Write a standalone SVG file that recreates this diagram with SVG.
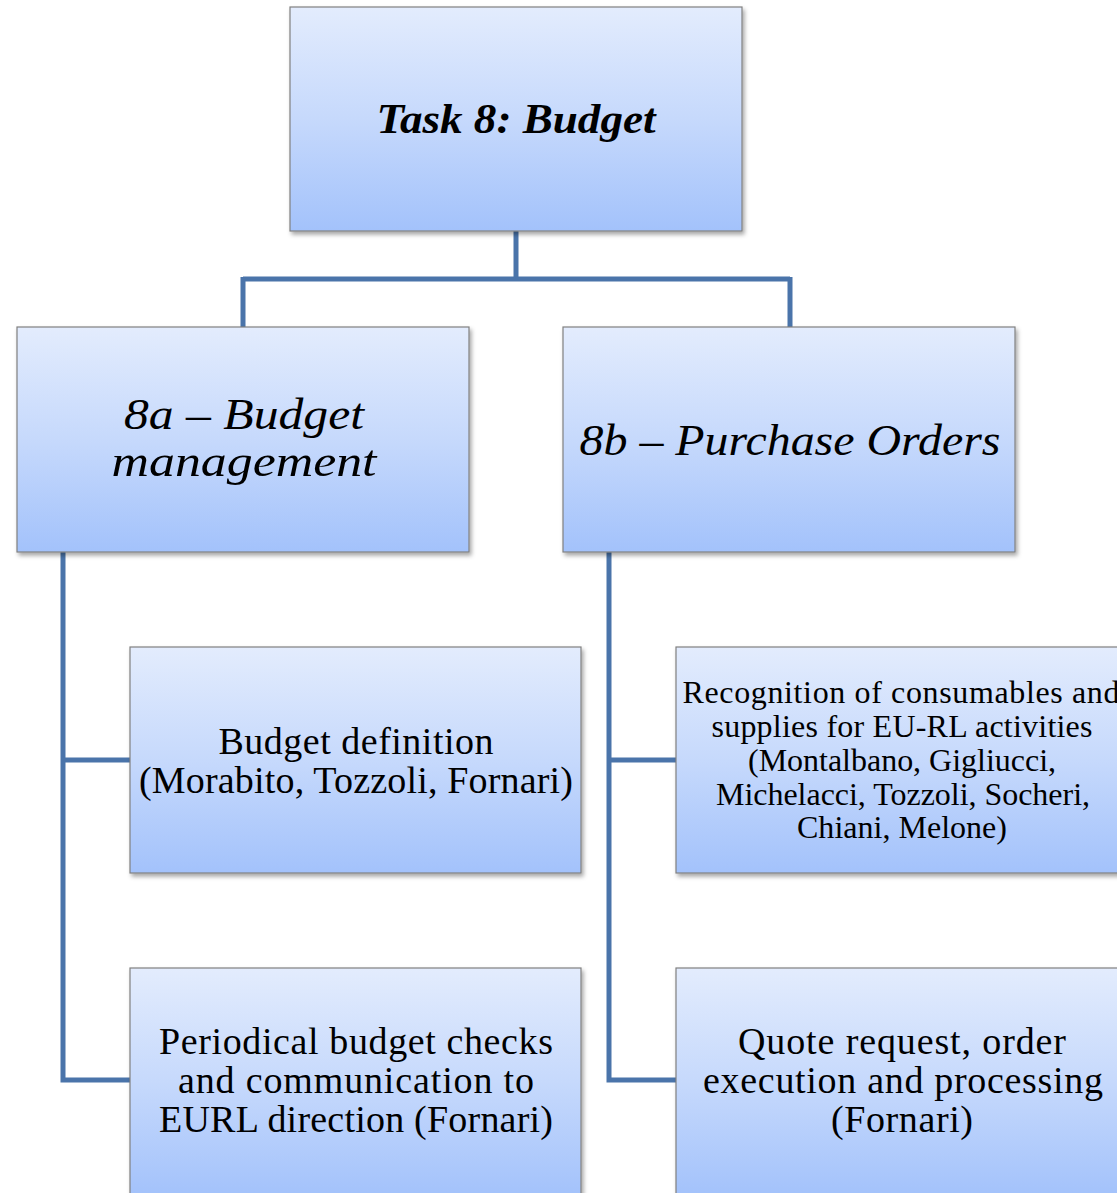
<svg xmlns="http://www.w3.org/2000/svg" width="1117" height="1193" viewBox="0 0 1117 1193">
<defs>
<linearGradient id="g" x1="0" y1="0" x2="0" y2="1">
<stop offset="0" stop-color="#e3ecfd"/>
<stop offset="0.5" stop-color="#c6d9fc"/>
<stop offset="1" stop-color="#a3c2fb"/>
</linearGradient>
<filter id="sh" x="-5%" y="-5%" width="115%" height="115%">
<feDropShadow dx="2" dy="3" stdDeviation="2" flood-color="#000" flood-opacity="0.35"/>
</filter>
</defs>
<style>
.box{fill:url(#g);stroke:#808080;stroke-width:1.2;filter:url(#sh)}
.t{font-family:"Liberation Serif","Times New Roman",serif;fill:#000;text-anchor:middle}
.b{font-size:38px}
.s{font-size:32px}
.h{font-size:45px;font-style:italic}
.top{font-size:42px;font-style:italic;font-weight:bold}
.c{fill:none;stroke:#4a74aa;stroke-width:5}
</style>
<rect width="1117" height="1193" fill="#fff"/>
<g id="connectors">
<path class="c" d="M516 231 V279 M243 279 H790 M243 277 V327 M790 277 V327"/>
<path class="c" d="M63 552 V1080 H130 M61 760 H130"/>
<path class="c" d="M609 552 V1080 H676 M607 760 H676"/>
</g>
<g id="task8">
<rect class="box" x="290" y="7" width="452" height="224"/>
<text class="t top" x="516" y="133" textLength="279" lengthAdjust="spacingAndGlyphs">Task 8: Budget</text>
</g>
<g id="n8a">
<rect class="box" x="17" y="327" width="452" height="225"/>
<text class="t h" x="244" y="429" textLength="240" lengthAdjust="spacingAndGlyphs">8a – Budget</text>
<text class="t h" x="244" y="476" textLength="265" lengthAdjust="spacingAndGlyphs">management</text>
</g>
<g id="n8b">
<rect class="box" x="563" y="327" width="452" height="225"/>
<text class="t h" x="790" y="455" textLength="421" lengthAdjust="spacingAndGlyphs">8b – Purchase Orders</text>
</g>
<g id="budgetdef">
<rect class="box" x="130" y="647" width="451" height="226"/>
<text class="t b" x="356" y="754" textLength="275" lengthAdjust="spacing">Budget definition</text>
<text class="t b" x="356" y="793" textLength="434" lengthAdjust="spacing">(Morabito, Tozzoli, Fornari)</text>
</g>
<g id="periodical">
<rect class="box" x="130" y="968" width="451" height="228"/>
<text class="t b" x="356" y="1054" textLength="394" lengthAdjust="spacing">Periodical budget checks</text>
<text class="t b" x="356" y="1093" textLength="356" lengthAdjust="spacing">and communication to</text>
<text class="t b" x="356" y="1132" textLength="394" lengthAdjust="spacing">EURL direction (Fornari)</text>
</g>
<g id="recognition">
<rect class="box" x="676" y="647" width="451" height="226"/>
<text class="t s" x="901" y="703" textLength="437" lengthAdjust="spacing">Recognition of consumables and</text>
<text class="t s" x="902" y="737" textLength="381" lengthAdjust="spacing">supplies for EU-RL activities</text>
<text class="t s" x="902" y="771" textLength="308" lengthAdjust="spacing">(Montalbano, Gigliucci,</text>
<text class="t s" x="903" y="805" textLength="374" lengthAdjust="spacing">Michelacci, Tozzoli, Socheri,</text>
<text class="t s" x="902" y="838" textLength="210" lengthAdjust="spacing">Chiani, Melone)</text>
</g>
<g id="quote">
<rect class="box" x="676" y="968" width="451" height="228"/>
<text class="t b" x="902" y="1054" textLength="328" lengthAdjust="spacing">Quote request, order</text>
<text class="t b" x="903" y="1093" textLength="400" lengthAdjust="spacing">execution and processing</text>
<text class="t b" x="902" y="1132" textLength="142" lengthAdjust="spacing">(Fornari)</text>
</g>
</svg>
